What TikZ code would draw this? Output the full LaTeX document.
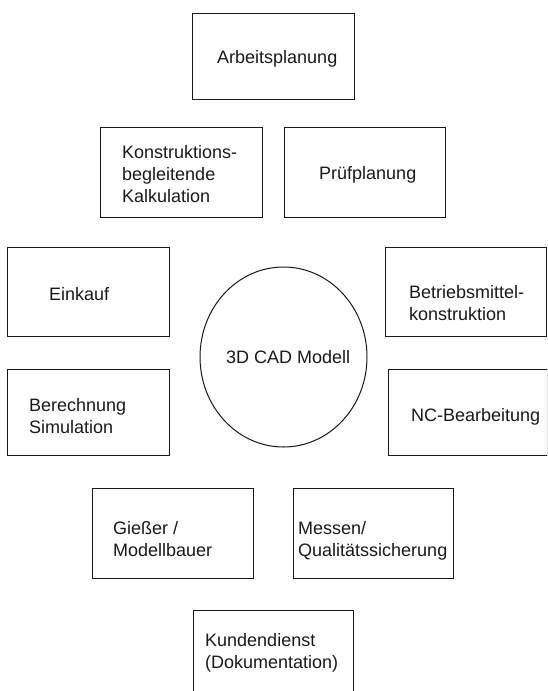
\documentclass[tikz,border=0pt]{standalone}
\usepackage{fontspec}
\setmainfont{Liberation Sans}
\usetikzlibrary{shapes.geometric}

\tikzset{
  frame/.style={draw=black!90, line width=1pt, rectangle, inner sep=0pt,
                minimum width=#1},
  frame/.default=161pt,
  blob/.style={draw=black!90, line width=1pt, ellipse, inner sep=0pt,
               minimum width=167pt, minimum height=180pt},
  % anchored at the baseline of the last line of the text
  caption/.style={anchor=base west, inner sep=0pt, align=left,
                  font=\fontsize{18}{22}\selectfont, text=black!90},
}

\begin{document}
\begin{tikzpicture}[x=1pt, y=-1pt]
  \useasboundingbox (0,0) rectangle (547,691);
  \clip (0,0) rectangle (547,691);

  % boxes around the central model
  \node[frame=162pt, minimum height=86pt] (arb)   at (273,56)    {};
  \node[frame=162pt, minimum height=90pt] (kon)   at (181,172)   {};
  \node[frame=161pt, minimum height=90pt] (pruef) at (364.5,172) {};
  \node[frame=162pt, minimum height=89pt] (eink)  at (88,291.5)  {};
  \node[frame=161pt, minimum height=89pt] (betr)  at (465.5,291.5) {};
  \node[frame=162pt, minimum height=86pt] (ber)   at (88,412)    {};
  \node[frame=159pt, minimum height=86pt] (nc)    at (467.5,412) {};
  \node[frame=161pt, minimum height=90pt] (giess) at (172.5,533) {};
  \node[frame=160pt, minimum height=90pt] (mess)  at (373,533)   {};
  \node[frame=160pt, minimum height=90pt] (kund)  at (273,655)   {};

  % central model
  \node[blob] (cad) at (283.5,357) {};

  % texts
  \node[caption] (arb-t)   at (217,63)  {Arbeitsplanung};
  \node[caption] (kon-t)   at (122,202) {Konstruktions-\\begleitende\\Kalkulation};
  \node[caption] (pruef-t) at (319,179) {Prüfplanung};
  \node[caption] (eink-t)  at (49,300)  {Einkauf};
  \node[caption] (betr-t)  at (409,320) {Betriebsmittel-\\konstruktion};
  \node[caption] (cad-t)   at (226,363) {3D CAD Modell};
  \node[caption] (ber-t)   at (29,433)  {Berechnung\\Simulation};
  \node[caption] (nc-t)    at (411,421) {NC-Bearbeitung};
  \node[caption] (giess-t) at (113,556) {Gießer /\\Modellbauer};
  \node[caption] (mess-t)  at (298,556) {Messen/\\Qualitätssicherung};
  \node[caption] (kund-t)  at (205,668) {Kundendienst\\(Dokumentation)};
\end{tikzpicture}
\end{document}
